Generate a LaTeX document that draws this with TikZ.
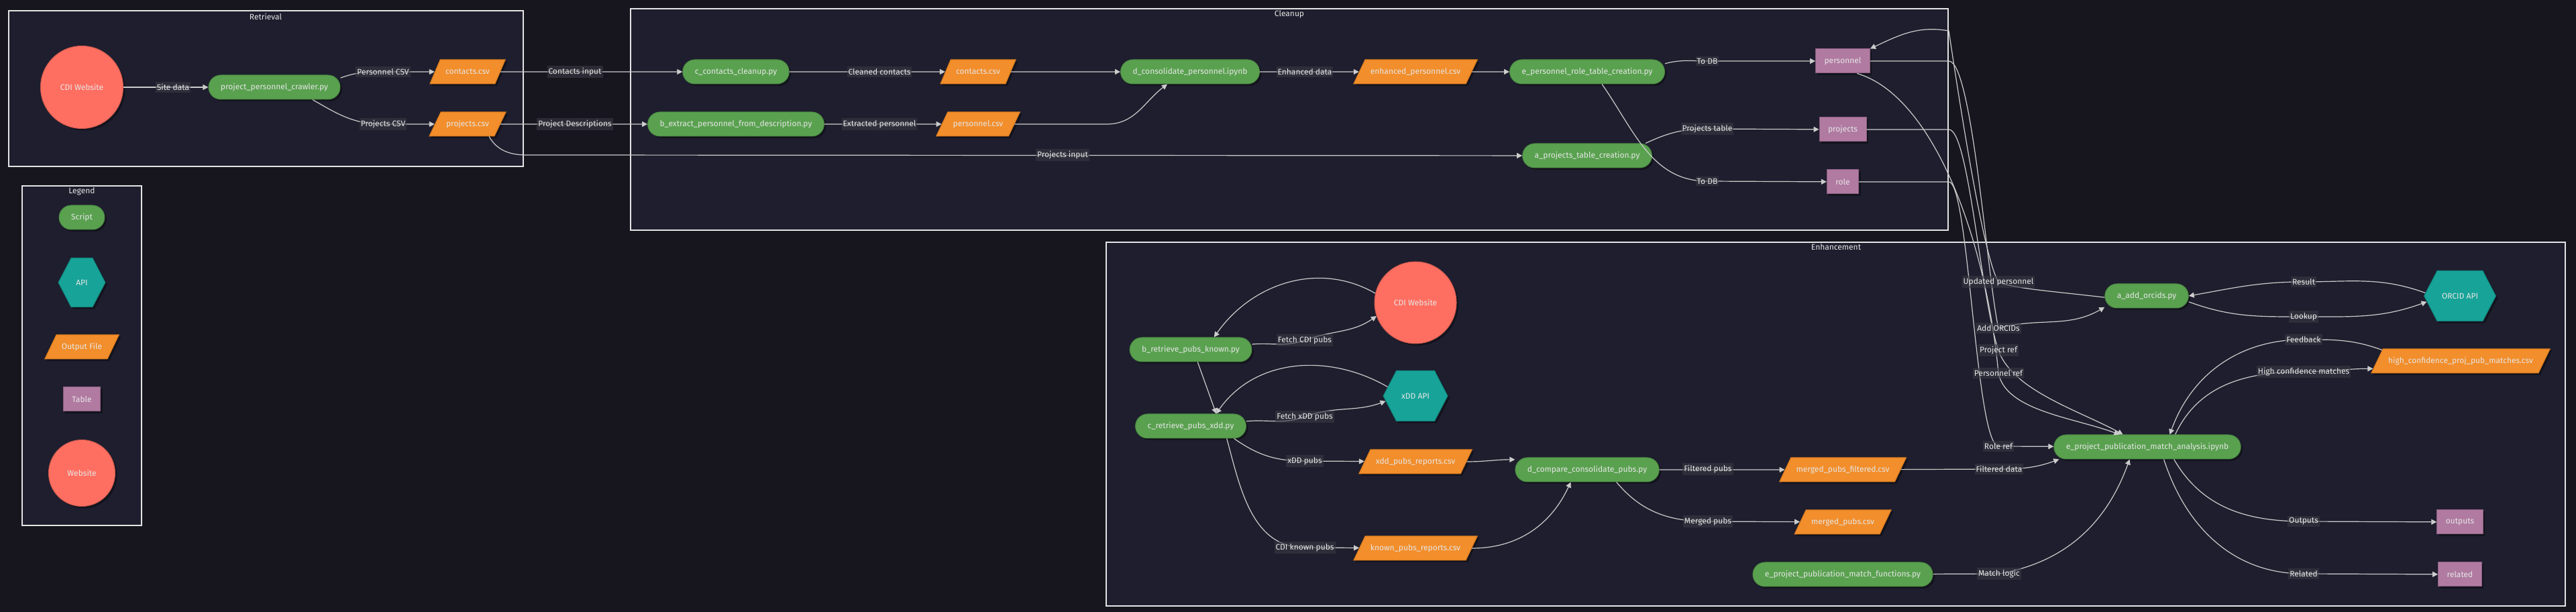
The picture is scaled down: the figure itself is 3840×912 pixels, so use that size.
\documentclass[tikz,border=0pt]{standalone}
\usepackage{fontspec}
\setmainfont{Fira Sans}
\usetikzlibrary{shapes.geometric,shapes.symbols,arrows.meta,shadows}

\definecolor{canvasbg}{HTML}{17161F}
\definecolor{clusterbg}{HTML}{1E1E2E}
\definecolor{clusterline}{HTML}{E4E4E4}
\definecolor{scriptfill}{HTML}{59A14F}
\definecolor{scriptline}{HTML}{4B8A42}
\definecolor{filefill}{HTML}{F28E2B}
\definecolor{fileline}{HTML}{D3771C}
\definecolor{tablefill}{HTML}{B07AA1}
\definecolor{tableline}{HTML}{8E5F82}
\definecolor{webfill}{HTML}{FF6F61}
\definecolor{apifill}{HTML}{17A398}
\definecolor{edgecol}{HTML}{CCCCCC}
\definecolor{labelbg}{HTML}{3A3A45}
\definecolor{textcol}{HTML}{E6E6E6}

\begin{document}
\begin{tikzpicture}[
  x=1pt,y=1pt,
  font=\fontsize{12pt}{14pt}\selectfont,
  box/.style={text=textcol, line width=1pt, minimum height=36pt,
    drop shadow={shadow xshift=3pt,shadow yshift=-3pt,fill=black,opacity=.35}},
  script/.style={box, rectangle, rounded corners=18pt, fill=scriptfill, draw=scriptline, inner xsep=18pt},
  file/.style={box, trapezium, trapezium left angle=63, trapezium right angle=117,
    trapezium stretches=true, inner ysep=11pt, fill=filefill, draw=fileline, inner xsep=8pt},
  dbtable/.style={box, rectangle, fill=tablefill, draw=tableline, inner xsep=13pt},
  website/.style={box, circle, fill=webfill, draw=webfill!80!black, inner sep=0pt},
  api/.style={box, signal, signal to=east and west, signal pointer angle=125,
    fill=apifill, draw=apifill!80!black, minimum height=75pt},
  cluster/.style={draw=clusterline, fill=clusterbg, line width=1.5pt},
  ctitle/.style={text=textcol},
  elabel/.style={fill=labelbg, fill opacity=.6, text opacity=1, text=textcol, inner xsep=2pt, inner ysep=3pt},
  flow/.style={edgecol, line width=1.2pt, -{Triangle[length=8pt,width=8pt]}}
]
\fill[canvasbg] (0,0) rectangle (3840,912);
\useasboundingbox (0,0) rectangle (3840,912);

\path[cluster] (13,664) rectangle (780,896);
\path[cluster] (940,569) rectangle (2904,899);
\path[cluster] (1649,9) rectangle (3824,551);
\path[cluster] (33,129) rectangle (211,635);

\node[ctitle] at (396,887) (hRetrieval) {Retrieval};
\node[ctitle] at (1922,891) (hCleanup) {Cleanup};
\node[ctitle] at (2737,544) (hEnhancement) {Enhancement};
\node[ctitle] at (122,627) (hLegend) {Legend};

\node[website, minimum size=123pt] at (122,782) (webA) {CDI Website};
\node[script] at (409,782) (crawler) {project\_personnel\_crawler.py};
\node[file] at (697,805) (contactsA) {contacts.csv};
\node[file] at (697,727) (projectsA) {projects.csv};

\node[script] at (1097,805) (cleanup) {c\_contacts\_cleanup.py};
\node[script] at (1097,727) (extract) {b\_extract\_personnel\_from\_description.py};
\node[file] at (1458,805) (contactsB) {contacts.csv};
\node[file] at (1458,727) (personnelB) {personnel.csv};
\node[script] at (1774,805) (consolidate) {d\_consolidate\_personnel.ipynb};
\node[file] at (2110,805) (enhanced) {enhanced\_personnel.csv};
\node[script] at (2366,805) (roleScript) {e\_personnel\_role\_table\_creation.py};
\node[script] at (2366,680) (projScript) {a\_projects\_table\_creation.py};
\node[dbtable] at (2747,821) (tPersonnel) {personnel};
\node[dbtable] at (2747,719) (tProjects) {projects};
\node[dbtable] at (2747,641) (tRole) {role};

\node[website, minimum size=122pt] at (2110,461) (webB) {CDI Website};
\node[script] at (1775,391) (known) {b\_retrieve\_pubs\_known.py};
\node[script] at (1775,277) (xdd) {c\_retrieve\_pubs\_xdd.py};
\node[api, minimum width=96pt] at (2110,322) (xddApi) {xDD API};
\node[file] at (2110,224) (xddCsv) {xdd\_pubs\_reports.csv};
\node[file] at (2110,95) (knownCsv) {known\_pubs\_reports.csv};
\node[script] at (2366,212) (compare) {d\_compare\_consolidate\_pubs.py};
\node[file] at (2747,212) (filtered) {merged\_pubs\_filtered.csv};
\node[file] at (2747,134) (merged) {merged\_pubs.csv};
\node[script] at (2747,56) (functions) {e\_project\_publication\_match\_functions.py};
\node[script] at (3200,471) (orcids) {a\_add\_orcids.py};
\node[script] at (3201,246) (analysis) {e\_project\_publication\_match\_analysis.ipynb};
\node[api, minimum width=107pt] at (3667,471) (orcidApi) {ORCID API};
\node[file] at (3668,374) (hiconf) {high\_confidence\_proj\_pub\_matches.csv};
\node[dbtable] at (3667,134) (tOutputs) {outputs};
\node[dbtable] at (3667,56) (tRelated) {related};

\node[script] at (122,588) (lgScript) {Script};
\node[api, minimum width=70pt, minimum height=73pt] at (122,491) (lgApi) {API};
\node[file] at (122,395) (lgFile) {Output File};
\node[dbtable] at (122,317) (lgTable) {Table};
\node[website, minimum size=99pt] at (122,207) (lgWeb) {Website};

\coordinate (lSite) at (258,782);
\coordinate (lPersCsv) at (571,805);
\coordinate (lProjCsv) at (571,727);
\coordinate (lContIn) at (857,805);
\coordinate (lProjDesc) at (857,727);
\coordinate (lCleaned) at (1311,805);
\coordinate (lExtracted) at (1311,727);
\coordinate (lEnhanced) at (1945,805);
\coordinate (lToDbA) at (2545,821);
\coordinate (lProjTab) at (2545,720);
\coordinate (lToDbB) at (2545,642);
\coordinate (lProjIn) at (1584,681);
\coordinate (lFetchCdi) at (1945,405);
\coordinate (lFetchXdd) at (1945,291);
\coordinate (lXddPubs) at (1945,225);
\coordinate (lCdiKnown) at (1945,96);
\coordinate (lFiltPubs) at (2546,213);
\coordinate (lMergPubs) at (2546,135);
\coordinate (lFiltData) at (2980,213);
\coordinate (lMatch) at (2980,57);
\coordinate (lRoleRef) at (2979,247);
\coordinate (lPersRef) at (2979,356);
\coordinate (lProjRef) at (2979,390);
\coordinate (lAddOrcid) at (2979,423);
\coordinate (lUpdated) at (2979,492);
\coordinate (lResult) at (3434,492);
\coordinate (lLookup) at (3434,440);
\coordinate (lFeedback) at (3434,406);
\coordinate (lHiConf) at (3434,358);
\coordinate (lOutputs) at (3434,135);
\coordinate (lRelated) at (3434,57);

\coordinate (kProjIn) at (785,681);
\coordinate (kPersCsv) at (1650,727);
\coordinate (kUpd) at (2905,866);
\coordinate (kPers) at (2905,821);
\coordinate (kProj) at (2905,719);
\coordinate (kRole) at (2905,641);

\path[draw,flow] (webA) -- (crawler);
\path[draw,flow] (crawler.8) to[out=20,in=180] (lPersCsv) -- (contactsA);
\path[draw,flow] (crawler.-18) to[out=-30,in=180] (lProjCsv) -- (projectsA);
\path[draw,flow] (contactsA) -- (cleanup);
\path[draw,flow] (projectsA) -- (extract);
\path[draw,flow] (projectsA.-30) to[out=-60,in=180] (kProjIn) -- (projScript);
\path[draw,flow] (cleanup) -- (contactsB);
\path[draw,flow] (extract) -- (personnelB);
\path[draw,flow] (contactsB) -- (consolidate);
\path[draw,flow] (personnelB) -- (kPersCsv) to[out=0,in=217] ([xshift=-34pt]consolidate.south);
\path[draw,flow] (consolidate) -- (enhanced);
\path[draw,flow] (enhanced) -- (roleScript);
\path[draw,flow] (roleScript.6) to[out=15,in=180] (lToDbA) -- (tPersonnel);
\path[draw,flow] (roleScript.-40) to[out=-55,in=180] (lToDbB) -- (tRole);
\path[draw,flow] (projScript.12) to[out=25,in=180] (lProjTab) -- (tProjects);

\path[draw,flow] (orcids.182) .. controls (3060,478) and (3000,482) .. (lUpdated)
  .. controls (2955,530) and (2915,800) .. (kUpd) to[out=170,in=25] (tPersonnel.north east);
\path[draw,flow] (tPersonnel) -- (kPers) .. controls (2940,821) and (2962,500) .. (lAddOrcid)
  to[out=15,in=210] (orcids.195);
\path[draw,flow] (tProjects) -- (kProj) .. controls (2935,719) and (2952,470) .. (lProjRef)
  .. controls (3000,330) and (3100,300) .. (analysis.153);
\path[draw,flow] (tPersonnel.-41) .. controls (2880,770) and (2960,560) .. (lPersRef)
  .. controls (2990,300) and (3090,290) .. (analysis.156);
\path[draw,flow] (tRole) -- (kRole) .. controls (2935,641) and (2945,250) .. (lRoleRef) -- (analysis);

\path[draw,flow] (orcidApi.175) to[out=160,in=0] (lResult) to[out=180,in=10] (orcids.east);
\path[draw,flow] (orcids.-8) to[out=-20,in=180] (lLookup) to[out=0,in=200] (orcidApi.190);
\path[draw,flow] (hiconf.172) to[out=160,in=0] (lFeedback) to[out=180,in=70] (analysis.29);
\path[draw,flow] (analysis.24) to[out=65,in=180] (lHiConf) to[out=0,in=180] (hiconf.185);

\path[draw,flow] (compare) -- (filtered);
\path[draw,flow] (compare.-23) to[out=-50,in=180] (lMergPubs) -- (merged);
\path[draw,flow] (filtered) -- (lFiltData) to[out=0,in=200] (analysis.188);
\path[draw,flow] (functions) -- (lMatch) to[out=10,in=-110] (analysis.215);
\path[draw,flow] (analysis.-25) to[out=-60,in=180] (lOutputs) -- (tOutputs);
\path[draw,flow] (analysis.-37) to[out=-72,in=180] (lRelated) -- (tRelated);

\path[draw,flow] (webB.167) to[out=150,in=55] (known.28);
\path[draw,flow] (known.5) to[out=5,in=200] (lFetchCdi) to[out=20,in=215] (webB.199);
\path[draw,flow] (xddApi.162) to[out=150,in=55] (xdd.26);
\path[draw,flow] (xdd.5) to[out=5,in=200] (lFetchXdd) to[out=20,in=200] (xddApi.190);
\path[draw,flow] (known.-61) -- (xdd.26);
\path[draw,flow] (xdd.-16) to[out=-35,in=180] (lXddPubs) -- (xddCsv);
\path[draw,flow] (xdd.-19) to[out=-75,in=180] (lCdiKnown) -- (knownCsv);
\path[draw,flow] (xddCsv.east) to[out=0,in=180] (compare.172);
\path[draw,flow] (knownCsv.east) to[out=0,in=245] (compare.217);

\node[elabel] at (lSite) (tSite) {Site data};
\node[elabel] at (lPersCsv) (tPersCsv) {Personnel CSV};
\node[elabel] at (lProjCsv) (tProjCsv) {Projects CSV};
\node[elabel] at (lContIn) (tContIn) {Contacts input};
\node[elabel] at (lProjDesc) (tProjDesc) {Project Descriptions};
\node[elabel] at (lCleaned) (tCleaned) {Cleaned contacts};
\node[elabel] at (lExtracted) (tExtracted) {Extracted personnel};
\node[elabel] at (lEnhanced) (tEnhanced) {Enhanced data};
\node[elabel] at (lToDbA) (tToDbA) {To DB};
\node[elabel] at (lProjTab) (tProjTab) {Projects table};
\node[elabel] at (lToDbB) (tToDbB) {To DB};
\node[elabel] at (lProjIn) (tProjIn) {Projects input};
\node[elabel] at (lFetchCdi) (tFetchCdi) {Fetch CDI pubs};
\node[elabel] at (lFetchXdd) (tFetchXdd) {Fetch xDD pubs};
\node[elabel] at (lXddPubs) (tXddPubs) {xDD pubs};
\node[elabel] at (lCdiKnown) (tCdiKnown) {CDI known pubs};
\node[elabel] at (lFiltPubs) (tFiltPubs) {Filtered pubs};
\node[elabel] at (lMergPubs) (tMergPubs) {Merged pubs};
\node[elabel] at (lFiltData) (tFiltData) {Filtered data};
\node[elabel] at (lMatch) (tMatch) {Match logic};
\node[elabel] at (lRoleRef) (tRoleRef) {Role ref};
\node[elabel] at (lPersRef) (tPersRef) {Personnel ref};
\node[elabel] at (lProjRef) (tProjRef) {Project ref};
\node[elabel] at (lAddOrcid) (tAddOrcid) {Add ORCIDs};
\node[elabel] at (lUpdated) (tUpdated) {Updated personnel};
\node[elabel] at (lResult) (tResult) {Result};
\node[elabel] at (lLookup) (tLookup) {Lookup};
\node[elabel] at (lFeedback) (tFeedback) {Feedback};
\node[elabel] at (lHiConf) (tHiConf) {High confidence matches};
\node[elabel] at (lOutputs) (tOutputs2) {Outputs};
\node[elabel] at (lRelated) (tRelated2) {Related};
\end{tikzpicture}
\end{document}
